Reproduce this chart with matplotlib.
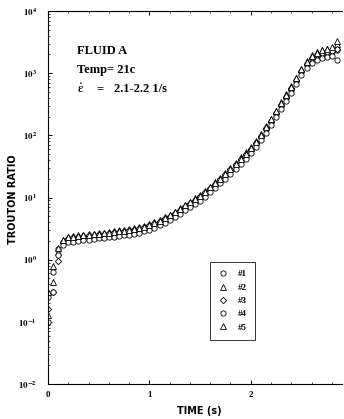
import math
import matplotlib
matplotlib.use("Agg")
import matplotlib.pyplot as plt
from matplotlib.ticker import FixedLocator, FuncFormatter, LogLocator, NullFormatter, MultipleLocator

plt.rcParams['mathtext.fontset'] = 'stix'
plt.rcParams['font.family'] = ['Liberation Serif', 'DejaVu Serif']

# ---------------- data ----------------
time_s = [0.00, 0.05, 0.10, 0.15, 0.20, 0.25, 0.30, 0.35, 0.40, 0.45,
          0.50, 0.55, 0.60, 0.65, 0.70, 0.75, 0.80, 0.85, 0.90, 0.95,
          1.00, 1.05, 1.10, 1.15, 1.20, 1.25, 1.30, 1.35, 1.40, 1.45,
          1.50, 1.55, 1.60, 1.65, 1.70, 1.75, 1.80, 1.85, 1.90, 1.95,
          2.00, 2.05, 2.10, 2.15, 2.20, 2.25, 2.30, 2.35, 2.40, 2.45,
          2.50, 2.55, 2.60, 2.65, 2.70, 2.75, 2.80, 2.85]

run_1 = [0.25, 0.64, 1.5, 1.95, 2.15, 2.2, 2.25, 2.3, 2.35, 2.4,
         2.45, 2.5, 2.55, 2.62, 2.7, 2.75, 2.85, 2.95, 3.05, 3.2,
         3.45, 3.7, 4.0, 4.45, 4.9, 5.45, 6.1, 7.0, 7.9, 8.9,
         10.1, 11.6, 13.6, 16.0, 19.0, 22.6, 27.5, 33.0, 39.5, 47.5,
         58.5, 74, 95, 125, 165, 222, 300, 405, 545, 750,
         1040, 1370, 1690, 1900, 2040, 2140, 2230, 2400]
run_2 = [0.30, 0.44, 1.35, 2.05, 2.35, 2.4, 2.45, 2.5, 2.55, 2.6,
         2.65, 2.7, 2.8, 2.85, 2.95, 3.0, 3.1, 3.2, 3.35, 3.5,
         3.75, 4.0, 4.4, 4.85, 5.3, 5.95, 6.7, 7.7, 8.6, 9.7,
         11.1, 12.8, 15.0, 17.6, 20.8, 24.9, 30.2, 36.4, 44, 53,
         65, 82, 106, 140, 186, 250, 338, 455, 615, 845,
         1170, 1560, 1950, 2180, 2350, 2460, 2570, 2900]
run_3 = [0.16, 0.30, 0.96, 1.85, 2.2, 2.3, 2.35, 2.4, 2.45, 2.5,
         2.55, 2.6, 2.7, 2.75, 2.8, 2.9, 2.95, 3.05, 3.2, 3.35,
         3.55, 3.85, 4.2, 4.6, 5.05, 5.65, 6.35, 7.3, 8.2, 9.2,
         10.5, 12.1, 14.2, 16.7, 19.7, 23.6, 28.3, 34.1, 41, 49.4,
         60.7, 76.3, 98.4, 130, 171, 231, 311, 419, 567, 782,
         1080, 1420, 1750, 1960, 2100, 2200, 2310, 2470]
run_4 = [0.10, 0.30, 1.2, 1.7, 1.9, 1.95, 2.0, 2.05, 2.1, 2.15,
         2.2, 2.25, 2.3, 2.35, 2.4, 2.45, 2.5, 2.6, 2.7, 2.85,
         3.05, 3.25, 3.55, 3.9, 4.3, 4.8, 5.4, 6.2, 7.0, 7.8,
         8.9, 10.3, 12.1, 14.2, 16.8, 20.1, 24.2, 29.1, 35, 42.1,
         51.8, 65.2, 84, 111, 146, 197, 266, 358, 484, 668,
         920, 1210, 1480, 1650, 1760, 1820, 1880, 1600]
run_5 = [0.13, 0.80, 1.55, 2.1, 2.3, 2.35, 2.4, 2.45, 2.5, 2.55,
         2.6, 2.65, 2.7, 2.75, 2.85, 2.9, 3.0, 3.1, 3.25, 3.4,
         3.65, 3.9, 4.25, 4.7, 5.15, 5.8, 6.5, 7.45, 8.35, 9.4,
         10.7, 12.3, 14.5, 17.0, 20.1, 24.0, 29.0, 34.8, 42, 50.5,
         62.5, 79, 102, 135, 180, 243, 330, 445, 600, 830,
         1150, 1520, 1900, 2150, 2320, 2450, 2600, 3300]

run_labels = ['#1', '#2', '#3', '#4', '#5']
run_values = [run_1, run_2, run_3, run_4, run_5]
run_markers = ['o', '^', 'D', 'o', '^']
run_sizes = [3.8, 3.8, 3.2, 3.8, 3.8]

x_ticks = [0, 1, 2]
y_ticks = [1e-2, 1e-1, 1e0, 1e1, 1e2, 1e3, 1e4]

# ---------------- figure ----------------
W, H = 344, 419
fig = plt.figure(figsize=(W / 100, H / 100), dpi=100)
ax = fig.add_axes([48 / W, 1 - 384 / H, (342 - 48) / W, (384 - 11) / H])

for lab, vals, mk, ms in zip(run_labels, run_values, run_markers, run_sizes):
    ax.plot(time_s, vals, linestyle='none', marker=mk, markersize=ms,
            markerfacecolor='white', markeredgecolor='black',
            markeredgewidth=0.6, label=lab)

ax.set_yscale('log')
ax.set_ylim(1e-2, 1e4)
ax.set_xlim(0, 2.9)

ax.spines['right'].set_visible(False)
for s in ['left', 'bottom', 'top']:
    ax.spines[s].set_linewidth(0.8)

ax.xaxis.set_major_locator(FixedLocator(x_ticks))
ax.xaxis.set_minor_locator(MultipleLocator(0.2))
ax.yaxis.set_major_locator(FixedLocator(y_ticks))
ax.yaxis.set_minor_locator(LogLocator(base=10, subs=range(2, 10)))
ax.yaxis.set_minor_formatter(NullFormatter())
ax.yaxis.set_major_formatter(FuncFormatter(
    lambda v, p: r'$\mathbf{10^{%d}}$' % round(math.log10(v))))
ax.xaxis.set_major_formatter(FuncFormatter(lambda v, p: '%d' % v))

ax.tick_params(axis='both', which='major', direction='in', length=3, width=0.7,
               labelsize=6.5, top=True)
ax.tick_params(axis='both', which='minor', direction='in', length=1.5, width=0.5,
               top=True)
ax.tick_params(axis='y', which='major', pad=8)
ax.tick_params(axis='x', which='major', pad=5)
for t in ax.get_xticklabels():
    t.set_fontweight('bold')

fig.text(199 / W, 1 - 411 / H, 'TIME (s)', family='DejaVu Sans', fontweight='bold',
         fontsize=7, ha='center', va='center')
fig.text(13 / W, 1 - 199 / H, 'TROUTON RATIO', family='DejaVu Sans', fontweight='bold',
         fontsize=7, ha='center', va='center', rotation=90)

fig.text(77 / W, 1 - 51 / H, 'FLUID A', fontsize=9, fontweight='bold', va='center', ha='left')
fig.text(77 / W, 1 - 70 / H, 'Temp= 21c', fontsize=9, fontweight='bold', va='center', ha='left')
fig.text(77 / W, 1 - 89 / H, r'$\mathbf{\dot{\varepsilon}}$', fontsize=9, va='center', ha='left')
fig.text(96 / W, 1 - 89 / H, '=', fontsize=9, fontweight='bold', va='center', ha='left')
fig.text(114 / W, 1 - 89 / H, '2.1-2.2 1/s', fontsize=9, fontweight='bold', va='center', ha='left')

leg = ax.legend(loc='upper left', bbox_to_anchor=((210 - 48) / 294, (384 - 262) / 373),
                frameon=True, fancybox=False, edgecolor='black', fontsize=6.5,
                handlelength=1.0, handletextpad=1.2, borderpad=0.9, labelspacing=0.55,
                borderaxespad=0)
leg.get_frame().set_linewidth(0.7)
for t in leg.get_texts():
    t.set_fontweight('bold')

fig.savefig('out.png', dpi=100)
